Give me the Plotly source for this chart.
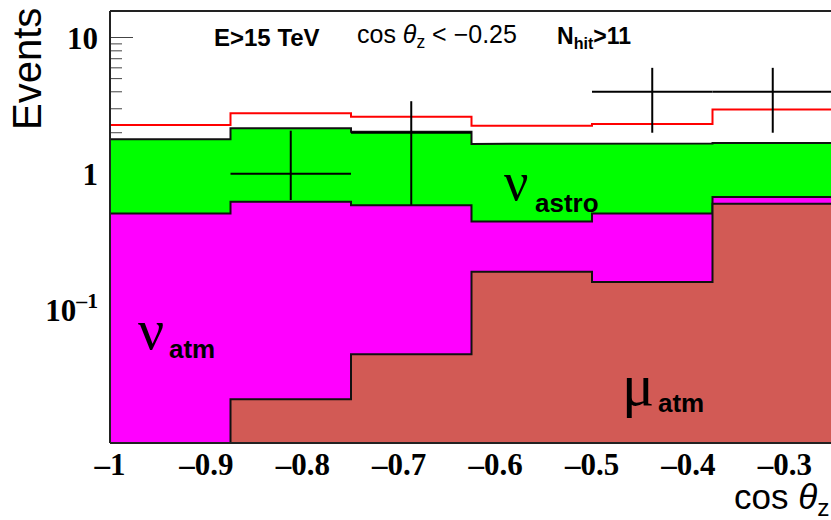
import plotly.graph_objects as go

# Histogram binning in cos(theta_z)
bin_edges = [-1.0, -0.875, -0.75, -0.625, -0.5, -0.375, -0.25]

# Expected events per bin for each component (stacked bottom to top)
mu_atm = [0.0, 0.022, 0.047, 0.19, 0.16, 0.60]
nu_atm = [0.51, 0.60, 0.54, 0.255, 0.35, 0.074]
nu_astro = [1.28, 1.54, 1.45, 1.21, 1.16, 1.01]

# Total expectation from the fit (red step line)
total_fit = [2.28, 2.78, 2.62, 2.25, 2.32, 2.97]

# Observed events with asymmetric errors (0 = empty bin, not drawn)
data_counts = [0, 1, 2, 0, 4, 4]
data_err_up = [0, 1.07, 1.41, 0, 2.0, 2.0]
data_err_dn = [0, 0.36, 1.41, 0, 2.0, 2.0]

x_tick_vals = [-1.0, -0.9, -0.8, -0.7, -0.6, -0.5, -0.4, -0.3]
x_tick_text = ["\u20131", "\u20130.9", "\u20130.8", "\u20130.7", "\u20130.6", "\u20130.5", "\u20130.4", "\u20130.3"]
y_tick_vals = [0.1, 1, 10]
y_tick_text = ["10<sup>\u20131</sup>", "1", "10"]

FLOOR = 1e-3  # below the visible y range, closes the filled steps

W, H = 831, 520
ML, MR, MT, MB = 110, 0, 11, 77
PW, PH = W - ML - MR, H - MT - MB


def px(xp):
    return (xp - ML) / PW


def py(yp):
    return (H - MB - yp) / PH


def step_polygon(edges, vals):
    xs, ys = [], []
    for i, v in enumerate(vals):
        v = max(v, FLOOR)
        xs += [edges[i], edges[i + 1]]
        ys += [v, v]
    xs += [edges[-1], edges[0], edges[0]]
    ys += [FLOOR, FLOOR, ys[0]]
    return xs, ys


def step_line(edges, vals):
    xs, ys = [], []
    for i, v in enumerate(vals):
        xs += [edges[i], edges[i + 1]]
        ys += [v, v]
    return xs, ys


stack_mu = mu_atm
stack_atm = [a + b for a, b in zip(mu_atm, nu_atm)]
stack_all = [a + b for a, b in zip(stack_atm, nu_astro)]

fig = go.Figure()

for vals, color, name in [
    (stack_all, "#00FF00", "nu_astro"),
    (stack_atm, "#FF00FF", "nu_atm"),
    (stack_mu, "#D25A55", "mu_atm"),
]:
    xs, ys = step_polygon(bin_edges, vals)
    fig.add_trace(go.Scatter(
        x=xs, y=ys, mode="lines", fill="toself", fillcolor=color,
        line=dict(color="#111111", width=2), name=name, hoverinfo="skip",
    ))

xs, ys = step_line(bin_edges, total_fit)
fig.add_trace(go.Scatter(x=xs, y=ys, mode="lines",
                         line=dict(color="#FF0000", width=2), name="total"))

centers = [(bin_edges[i] + bin_edges[i + 1]) / 2 for i in range(len(data_counts))]
half_w = [(bin_edges[i + 1] - bin_edges[i]) / 2 for i in range(len(data_counts))]
sel = [i for i, c in enumerate(data_counts) if c > 0]
fig.add_trace(go.Scatter(
    x=[centers[i] for i in sel], y=[data_counts[i] for i in sel],
    mode="markers", marker=dict(size=1, color="black"),
    error_x=dict(type="data", array=[half_w[i] for i in sel], width=0,
                 thickness=2, color="black"),
    error_y=dict(type="data", symmetric=False,
                 array=[data_err_up[i] for i in sel],
                 arrayminus=[data_err_dn[i] for i in sel],
                 width=0, thickness=2, color="black"),
    name="data",
))

shapes = []
# minor log ticks on the left axis
for dec in [0.01, 0.1, 1]:
    for m in range(2, 10):
        shapes.append(dict(type="line", xref="paper", yref="y",
                           x0=0, x1=12 / PW, y0=m * dec, y1=m * dec,
                           line=dict(color="#444444", width=1), layer="below"))
# frame
frame = dict(color="#222222", width=2)
shapes += [
    dict(type="line", xref="paper", yref="paper", x0=0, x1=0, y0=0, y1=1, line=frame, layer="above"),
    dict(type="line", xref="paper", yref="paper", x0=0, x1=1, y0=0, y1=0, line=frame, layer="above"),
    dict(type="line", xref="paper", yref="paper", x0=0, x1=1, y0=1, y1=1, line=frame, layer="above"),
]

sans = "Liberation Sans"
serif = "Liberation Serif"
ann = []


def label(text, xp, yp, size, family=sans, weight="normal", xanchor="center", angle=0):
    ann.append(dict(text=text, x=px(xp), y=py(yp), xref="paper", yref="paper",
                    showarrow=False, xanchor=xanchor, yanchor="middle",
                    textangle=angle, borderpad=0,
                    font=dict(family=family, size=size, color="black", weight=weight)))


label("E>15 TeV", 267, 37, 24, weight="bold")
label("cos <i>\u03b8</i><sub>z</sub> < \u22120.25", 437, 36, 25)
label("N<sub>hit</sub>>11", 594, 37, 23, weight="bold")

label("\u03bd", 516, 182, 54, family=serif)
label("astro", 567, 203, 26, weight="bold")
label("\u03bd", 151, 329, 58, family=serif)
label("atm", 192, 349, 26, weight="bold")
label("\u03bc", 638, 385, 60, family=serif)
label("atm", 681, 403, 26, weight="bold")

label("Events", 27, 69, 40, angle=-90)
label("cos <i>\u03b8</i><sub>z</sub>", 830, 499, 35, xanchor="right")

fig.update_layout(
    width=W, height=H,
    margin=dict(l=ML, r=MR, t=MT, b=MB, pad=0),
    paper_bgcolor="white", plot_bgcolor="white",
    showlegend=False,
    shapes=shapes,
    annotations=ann,
    xaxis=dict(
        range=[-1.0, -1.0 + 0.125 * PW / 120.5],
        tickvals=x_tick_vals, ticktext=x_tick_text,
        ticks="", showgrid=False, zeroline=False, showline=False,
        tickfont=dict(family=serif, size=31, color="black", weight="bold"),
        layer="below traces",
    ),
    yaxis=dict(
        type="log", range=[-1.980, 1.196],
        tickvals=y_tick_vals, ticktext=y_tick_text,
        ticks="inside", ticklen=23, tickwidth=1, tickcolor="#444444",
        ticklabelstandoff=11,
        showgrid=False, zeroline=False, showline=False,
        tickfont=dict(family=serif, size=31, color="black", weight="bold"),
        layer="below traces",
    ),
)

fig.write_html("out.html")
